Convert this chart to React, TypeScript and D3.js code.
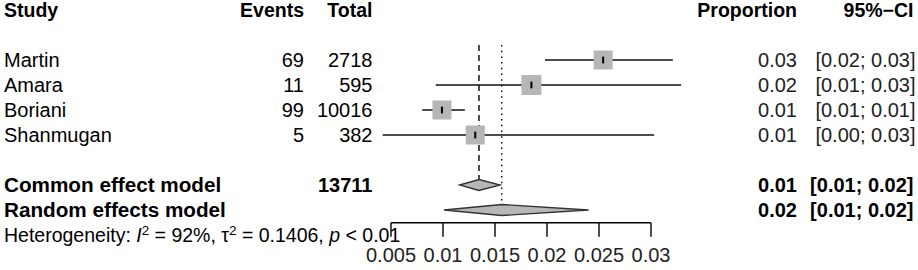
import React from "react";
import * as d3 from "d3";

// ---- data ----
const studies = ["Martin", "Amara", "Boriani", "Shanmugan"];
const events = [69, 11, 99, 5];
const totals = [2718, 595, 10016, 382];
const proportions = [0.0254, 0.0185, 0.0099, 0.0131];
const ciLower = [0.0198, 0.0093, 0.008, 0.0042];
const ciUpper = [0.0321, 0.0329, 0.0121, 0.0303];
const weights = [24.3, 26.9, 24.3, 24.3];
const propLabels = ["0.03", "0.02", "0.01", "0.01"];
const ciLabels = ["[0.02; 0.03]", "[0.01; 0.03]", "[0.01; 0.01]", "[0.00; 0.03]"];

const modelNames = ["Common effect model", "Random effects model"];
const modelTotals = ["13711", ""];
const modelEstimates = [0.01346, 0.01565];
const modelLower = [0.0116, 0.0101];
const modelUpper = [0.0155, 0.024];
const modelPropLabels = ["0.01", "0.02"];
const modelCiLabels = ["[0.01; 0.02]", "[0.01; 0.02]"];

const tickValues = [0.005, 0.01, 0.015, 0.02, 0.025, 0.03];
const tickLabels = ["0.005", "0.01", "0.015", "0.02", "0.025", "0.03"];
const headers = ["Study", "Events", "Total", "Proportion", "95%\u2212CI"];

// ---- layout ----
const W = 918;
const H = 270;
const FONT = "'Liberation Sans', Arial, Helvetica, sans-serif";
const FS = 20;

export default function App() {
  const x = d3.scaleLinear().domain([0.005, 0.03]).range([391, 651]);
  const row = d3.scaleLinear().domain([0, 9]).range([10, 235]);
  const sq = d3.scaleSqrt().domain([0, 24.3]).range([0, 19]);
  const base = (c: number) => c + 7.2;

  const colStudy = 4;
  const colEvents = 304;
  const colTotal = 372.5;
  const colProp = 797;
  const colCI = 915.5;

  const studyRow = (i: number) => row(i + 2);
  const modelRow = (i: number) => row(i + 7);

  const axisY = 222.7;
  const tickLen = 14;
  const lineTop = 45;
  const dh = 5.5;

  const diamond = (i: number) => {
    const c = modelRow(i);
    const p = d3.path();
    p.moveTo(x(modelLower[i]), c);
    p.lineTo(x(modelEstimates[i]), c - dh);
    p.lineTo(x(modelUpper[i]), c);
    p.lineTo(x(modelEstimates[i]), c + dh);
    p.closePath();
    return p.toString();
  };

  const gray = "#b6b6b6";

  return (
    <>
      <style>{`body{margin:0;}`}</style>
      <svg width={W} height={H} style={{ display: "block", background: "#fff" }} fontFamily={FONT} fontSize={FS}>
        {/* headers */}
        <g fontWeight="bold" fill="#000" fontSize={19.5}>
          <text x={colStudy} y={base(row(0))}>{headers[0]}</text>
          <text x={colEvents} y={base(row(0))} textAnchor="end">{headers[1]}</text>
          <text x={colTotal} y={base(row(0))} textAnchor="end">{headers[2]}</text>
          <text x={colProp} y={base(row(0))} textAnchor="end">{headers[3]}</text>
          <text x={colCI - 2} y={base(row(0))} textAnchor="end">{headers[4]}</text>
        </g>

        {/* reference lines */}
        <line x1={x(modelEstimates[0])} x2={x(modelEstimates[0])} y1={lineTop} y2={modelRow(0) - dh}
          stroke="#000" strokeWidth={1.4} strokeDasharray="6,4" />
        <line x1={x(modelEstimates[1])} x2={x(modelEstimates[1])} y1={lineTop} y2={modelRow(1) - dh}
          stroke="#000" strokeWidth={1.4} strokeDasharray="1.5,4.2" />

        {/* studies */}
        {studies.map((s, i) => {
          const c = studyRow(i);
          const size = sq(weights[i]);
          return (
            <g key={s}>
              <text x={colStudy} y={base(c)}>{s}</text>
              <text x={colEvents} y={base(c)} textAnchor="end">{events[i]}</text>
              <text x={colTotal} y={base(c)} textAnchor="end">{totals[i]}</text>
              <text x={colProp} y={base(c)} textAnchor="end" fill="#222">{propLabels[i]}</text>
              <text x={colCI} y={base(c)} textAnchor="end" fill="#222">{ciLabels[i]}</text>
              <line x1={x(ciLower[i])} x2={x(ciUpper[i])} y1={c} y2={c} stroke="#111" strokeWidth={1.4} />
              <rect x={x(proportions[i]) - size / 2} y={c - size / 2} width={size} height={size} fill={gray} />
              <line x1={x(proportions[i])} x2={x(proportions[i])} y1={c - 3.4} y2={c + 3.4} stroke="#000" strokeWidth={2} />
            </g>
          );
        })}

        {/* models */}
        {modelNames.map((m, i) => {
          const c = modelRow(i);
          return (
            <g key={m} fontWeight="bold">
              <text x={colStudy} y={base(c)} fontSize={20.7}>{m}</text>
              <text x={colTotal} y={base(c)} textAnchor="end">{modelTotals[i]}</text>
              <text x={colProp} y={base(c)} textAnchor="end">{modelPropLabels[i]}</text>
              <text x={colCI - 2} y={base(c)} textAnchor="end">{modelCiLabels[i]}</text>
              <path d={diamond(i)} fill={gray} stroke="#333" strokeWidth={1.3} />
            </g>
          );
        })}

        {/* heterogeneity */}
        <text x={colStudy} y={base(row(9))} fontSize={19.5}>
          <tspan>Heterogeneity: </tspan>
          <tspan fontStyle="italic">I</tspan>
          <tspan fontSize={13.5} dy={-7}>2</tspan>
          <tspan dy={7}> = 92%, </tspan>
          <tspan>τ</tspan>
          <tspan fontSize={13.5} dy={-7}>2</tspan>
          <tspan dy={7}> = 0.1406, </tspan>
          <tspan fontStyle="italic">p</tspan>
          <tspan> &lt; 0.01</tspan>
        </text>

        {/* axis */}
        <line x1={x(tickValues[0])} x2={x(tickValues[tickValues.length - 1])} y1={axisY} y2={axisY}
          stroke="#000" strokeWidth={1.4} />
        {tickValues.map((t, i) => (
          <g key={t}>
            <line x1={x(t)} x2={x(t)} y1={axisY} y2={axisY + tickLen} stroke="#000" strokeWidth={1.4} />
            <text x={x(t)} y={262} textAnchor="middle" fill="#222">{tickLabels[i]}</text>
          </g>
        ))}
      </svg>
    </>
  );
}
